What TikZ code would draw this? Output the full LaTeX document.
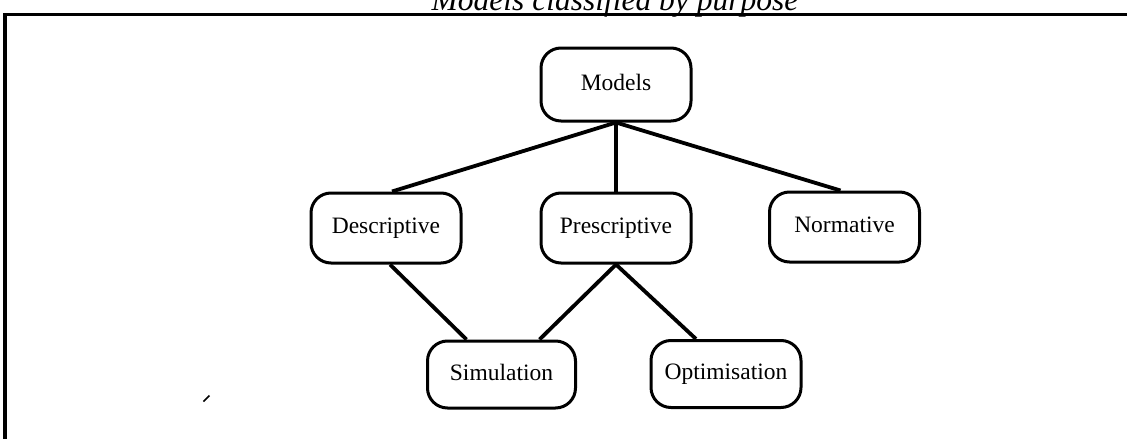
\documentclass[tikz,border=0pt]{standalone}
\usepackage{fontspec}
\setmainfont{Liberation Serif}
\begin{document}
\begin{tikzpicture}[x=1pt,y=-1pt,
  box/.style={draw, line width=3pt, rounded corners=20pt, inner sep=0pt,
    minimum width=150pt, minimum height=70pt,
    text height=16pt, text depth=5pt,
    font=\fontsize{23.5}{27}\selectfont},
  link/.style={line width=3.8pt},
  frame/.style={line width=3.5pt}]
  \useasboundingbox (0,0) rectangle (1127,439);
  \clip (0,0) rectangle (1127,439);

  % caption, partly cut by the top edge
  \node[anchor=base, inner sep=0pt, font=\fontsize{31.5}{36}\selectfont\itshape]
    (title) at (615,10) {Models classified by purpose};

  % open frame: top and left rules only
  \coordinate (fl) at (5,439);
  \coordinate (fc) at (5,14.5);
  \coordinate (fr) at (1127,14.5);
  \draw[frame] (fl) -- (fc) -- (fr);

  % classification boxes
  \node[box, minimum height=73pt] (models) at (616,84.5) {Models};
  \node[box] (descr) at (386,228) {Descriptive};
  \node[box] (presc) at (616,228) {Prescriptive};
  \node[box] (norm)  at (844.5,227) {Normative};
  \node[box, minimum width=148pt, minimum height=67pt] (sim) at (501.5,374.5) {Simulation};
  \node[box, minimum height=67pt] (opt) at (726,374) {Optimisation};

  % links
  \draw[link] (models.south) -- ([xshift=6pt]descr.north);
  \draw[link] (models.south) -- (presc.north);
  \draw[link] (models.south) -- ([xshift=-4pt]norm.north);
  \draw[link] ([xshift=4pt]descr.south) -- ([xshift=-35pt]sim.north);
  \draw[link] (presc.south) -- ([xshift=38pt]sim.north);
  \draw[link] (presc.south) -- ([xshift=-30pt]opt.north);

  % small stray pen mark
  \coordinate (m1) at (203.5,401.5);
  \coordinate (m2) at (209.5,395.5);
  \draw[line width=1.6pt] (m1) -- (m2);
\end{tikzpicture}
\end{document}
